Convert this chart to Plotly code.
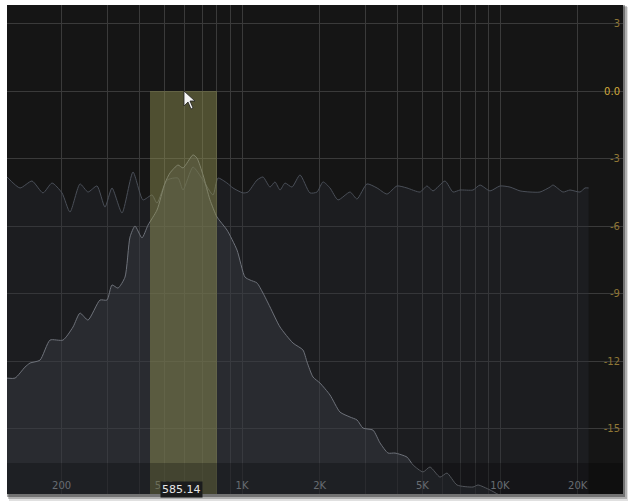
import math
import plotly.graph_objects as go

# ---- data ----
freq_a = [122.8, 137.9, 153.5, 169.3, 183.5, 200.6, 215.4, 235.6, 253.0, 274.2,
          294.4, 313.4, 342.7, 378.1, 413.3, 448.0, 468.4, 512.1, 564.9, 590.7,
          645.7, 706.3, 772.0, 807.2, 874.8, 922.6, 1009, 1055, 1143, 1206,
          1284, 1342, 1404, 1468, 1562, 1678, 1834, 1953, 2061, 2193,
          2356, 2623, 2791, 3051, 3337, 3648, 3988, 4360, 4897, 5212,
          5499, 6120, 6574, 6998, 7858, 8365, 9147, 10000, 10935, 11955,
          13072, 14289, 15624, 16048, 17547, 18676, 20419, 21353, 22050]
db_a = [-3.82, -4.31, -4.00, -4.53, -4.09, -4.53, -5.38, -4.13, -4.49, -4.22,
        -5.16, -4.31, -5.42, -3.60, -4.84, -4.62, -4.98, -3.96, -3.87, -4.40,
        -3.38, -3.96, -4.62, -3.87, -4.09, -4.31, -4.53, -4.49, -3.96, -3.82,
        -4.27, -4.04, -4.40, -4.09, -4.27, -3.73, -4.53, -4.49, -4.04, -4.31,
        -4.84, -4.49, -4.80, -4.13, -4.31, -4.58, -4.22, -4.31, -4.49, -4.22,
        -4.44, -4.00, -4.49, -4.40, -4.40, -4.18, -4.44, -4.22, -4.27, -4.44,
        -4.49, -4.49, -4.27, -4.18, -4.49, -4.40, -4.49, -4.31, -4.31]

freq_b = [122.8, 131.9, 144.2, 150.8, 164.9, 180.3, 202.4, 221.3, 235.6, 253.0,
          281.6, 299.7, 313.4, 330.6, 352.0, 368.1, 384.9, 409.6, 432.2, 468.4,
          503.0, 526.0, 564.9, 590.7, 645.7, 669.1, 706.3, 751.6, 800.0, 874.8,
          956.4, 1027, 1074, 1143, 1206, 1284, 1404, 1576, 1723, 1786,
          1884, 2006, 2193, 2398, 2623, 2791, 2944, 3219, 3427, 3681,
          3918, 4360, 4601, 5030, 5353, 5853, 6230, 6813, 7858, 8217,
          9147, 10935, 20419, 22050]
db_b = [-12.76, -12.76, -12.27, -12.09, -11.96, -11.07, -11.07, -10.49, -9.87, -10.18,
        -9.29, -9.29, -8.62, -8.76, -8.27, -6.49, -6.00, -6.53, -5.96, -5.29,
        -4.09, -3.64, -3.29, -3.42, -2.84, -2.98, -3.73, -4.84, -5.60, -6.18,
        -7.07, -8.27, -8.40, -8.53, -8.98, -9.60, -10.49, -11.20, -11.51, -12.04,
        -12.71, -12.98, -13.51, -14.27, -14.49, -14.62, -14.98, -15.07, -15.64, -16.09,
        -16.09, -16.27, -16.62, -16.93, -16.71, -17.16, -16.98, -17.51, -17.60, -17.51,
        -17.73, -18.20, -19.00, -19.50]

grid_freqs = [200, 300, 400, 500, 600, 700, 800, 900, 1000, 2000, 3000, 4000,
              5000, 6000, 7000, 8000, 9000, 10000, 20000]
grid_text = ["200", "", "", "500", "", "", "", "", "1K", "2K", "", "", "5K",
             "", "", "", "", "10K", "20K"]
db_ticks = [3, 0, -3, -6, -9, -12, -15]
db_text = ["3", "0.0", "-3", "-6", "-9", "-12", "-15"]

band_lo, band_hi = 440, 800
band_top = 0
band_label = "585.14"
floor_db = -30

# ---- figure ----
W, H = 628, 501
L, R, T, B = 7, 5, 5, 7
PW, PH = W - L - R, H - T - B


def px_x(p):
    return (p - L) / PW


def px_y(p):
    return (H - B - p) / PH


fig = go.Figure()

# series A (flat)
fig.add_trace(go.Scatter(x=[freq_a[0], freq_a[-1]], y=[floor_db, floor_db],
                         mode="lines", line=dict(width=0), hoverinfo="skip",
                         showlegend=False))
fig.add_trace(go.Scatter(x=freq_a, y=db_a, mode="lines", fill="tonexty",
                         fillcolor="rgba(45,48,56,0.32)",
                         line=dict(color="#4a4f58", width=1, shape="spline",
                                   smoothing=0.6),
                         showlegend=False))
# series B (peaked)
fig.add_trace(go.Scatter(x=[freq_b[0], freq_b[-1]], y=[floor_db, floor_db],
                         mode="lines", line=dict(width=0), hoverinfo="skip",
                         showlegend=False))
fig.add_trace(go.Scatter(x=freq_b, y=db_b, mode="lines", fill="tonexty",
                         fillcolor="rgba(62,64,72,0.40)",
                         line=dict(color="#6e727a", width=1, shape="spline",
                                   smoothing=0.6),
                         showlegend=False))

shapes = []
# outer drop shadow
for (x0, y0, x1, y1, a) in [(9, 7, 628, 501, 0.12), (8, 6, 627, 499, 0.22),
                            (7, 5, 625, 497, 0.35)]:
    shapes.append(dict(type="rect", xref="paper", yref="paper", layer="below",
                       x0=px_x(x0), x1=px_x(x1), y0=px_y(y1), y1=px_y(y0),
                       line=dict(width=0), fillcolor=f"rgba(0,0,0,{a})"))
# panel background
shapes.append(dict(type="rect", xref="paper", yref="paper", layer="below",
                   x0=0, x1=1, y0=0, y1=1, line=dict(width=0),
                   fillcolor="#151515"))
# highlighted band
shapes.append(dict(type="rect", xref="x", yref="y", layer="above",
                   x0=band_lo, x1=band_hi, y0=floor_db, y1=band_top,
                   line=dict(width=0), fillcolor="rgba(150,150,85,0.45)"))
# darker strip behind frequency labels
shapes.append(dict(type="rect", xref="paper", yref="y", layer="above",
                   x0=0, x1=1, y0=floor_db, y1=-16.53,
                   line=dict(width=0), fillcolor="rgba(0,0,0,0.25)"))
# mouse cursor
cur = [(184, 91), (184, 106), (188, 102), (191, 109), (193, 108), (190, 101), (195, 101)]
path = "M " + " L ".join(f"{px_x(a):.5f},{px_y(b):.5f}" for a, b in cur) + " Z"
shapes.append(dict(type="path", xref="paper", yref="paper", layer="above",
                   path=path, fillcolor="#f4f4f4", line=dict(color="#222", width=0.8)))

fig.update_layout(
    width=W, height=H,
    margin=dict(l=L, r=R, t=T, b=B, pad=0),
    paper_bgcolor="white",
    plot_bgcolor="rgba(0,0,0,0)",
    showlegend=False,
    shapes=shapes,
    font=dict(family="DejaVu Sans"),
    xaxis=dict(type="log",
               range=[math.log10(122.8), math.log10(29970)],
               tickvals=grid_freqs, ticktext=grid_text,
               ticks="", ticklabelposition="inside",
               tickfont=dict(color="#8a9098", size=10),
               showgrid=True, gridcolor="#3a3a3a", gridwidth=1,
               zeroline=False, showline=False, fixedrange=True),
    yaxis=dict(range=[-17.91, 3.822], side="right",
               tickvals=db_ticks,
               ticktext=[f"<span style='color:#d2aa3c'>{t}</span>" if t == "0.0" else t
                         for t in db_text],
               ticks="", ticklabelposition="inside",
               tickfont=dict(color="#8f7636", size=10),
               showgrid=True, gridcolor="#3a3a3a", gridwidth=1,
               zeroline=False, showline=False, fixedrange=True),
    annotations=[dict(x=math.log10(float(band_label)), y=px_y(489),
                      xref="x", yref="paper", text=band_label, showarrow=False,
                      font=dict(color="#e6e6e6", size=11, family="DejaVu Sans"),
                      bgcolor="#1b1c1d", borderpad=1, xanchor="center",
                      yanchor="middle")],
)

fig.write_html("out.html", config={"displayModeBar": False},
               post_script="document.body.style.margin='0';"
                           "document.body.style.overflow='hidden';")
